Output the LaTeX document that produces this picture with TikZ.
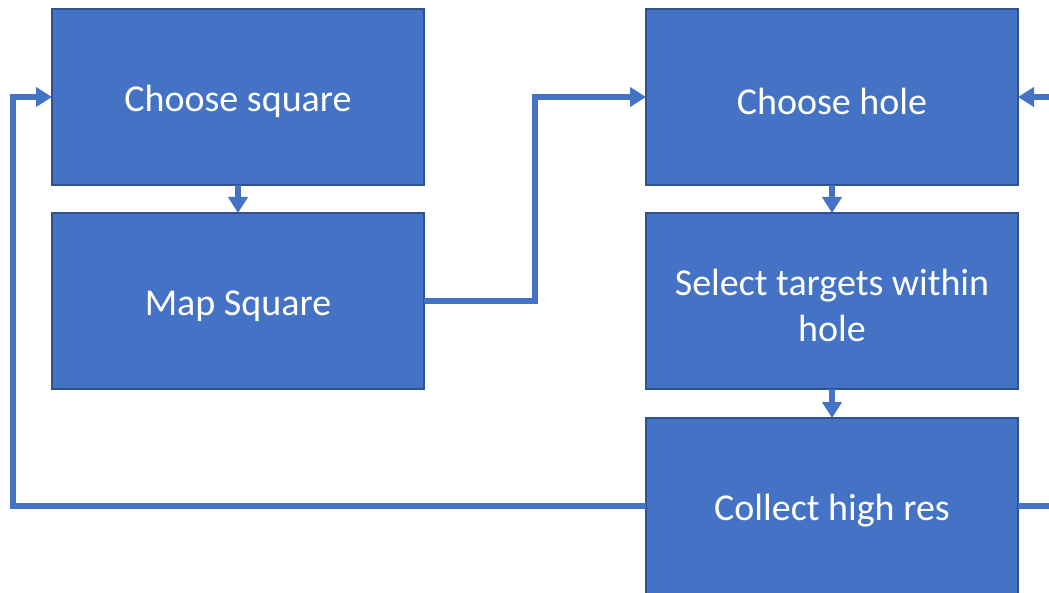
\documentclass[tikz,border=0pt]{standalone}
\usepackage{fontspec}
\setmainfont{Carlito}
\usetikzlibrary{positioning,arrows.meta}

\definecolor{boxblue}{HTML}{4472C4}
\definecolor{boxedge}{HTML}{2F528F}

\tikzset{
    stepbox/.style={rectangle, fill=boxblue, draw=boxedge, line width=1.5pt,
        minimum width=372pt, minimum height=176pt, inner sep=0pt, outer sep=0pt,
        text=white, align=center, text height=36pt,
        font=\fontsize{38}{46}\selectfont},
    flow/.style={draw=boxblue, line width=5.5pt, -{Triangle[length=16pt,width=19pt]}},
}

\begin{document}
\begin{tikzpicture}[x=1pt,y=1pt]
    % Page frame
    \clip (0,-593) rectangle (1049,0);

    % Square side
    \node[stepbox] (square) at (238,-97) {Choose square};
    \node[stepbox, below=28pt of square] (mapsq) {Map Square};

    % Hole side
    \node[stepbox, right=222pt of square] (hole) {Choose hole};
    \node[stepbox, text height=82pt, below=28pt of hole] (targets) {Select targets within\\hole};
    \node[stepbox, below=29pt of targets] (collect) {Collect high res};

    % Arrows
    \draw[flow] (square.south) -- (mapsq.north);
    \draw[flow] (hole.south) -- (targets.north);
    \draw[flow] (targets.south) -- (collect.north);
    \draw[flow] (mapsq.east) -- ++(111,0) |- (hole.west);

    % Loops back
    \draw[flow] (collect.west) -- ++(-633,0) |- (square.west);
    \draw[flow] (collect.east) -- ++(60,0) |- (hole.east);
\end{tikzpicture}
\end{document}
